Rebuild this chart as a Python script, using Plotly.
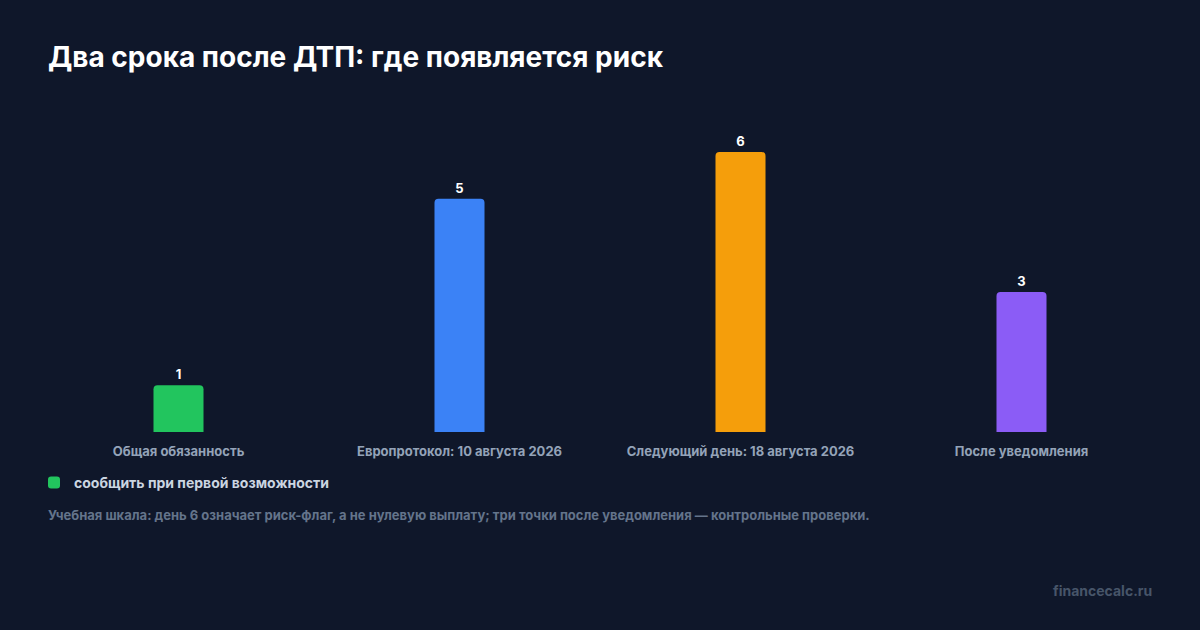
import plotly.graph_objects as go

categories = ["Общая обязанность", "Европротокол: 10 августа 2026",
              "Следующий день: 18 августа 2026", "После уведомления"]
values = [1, 5, 6, 3]
colors = ["#22c55e", "#3b82f6", "#f59e0b", "#8b5cf6"]
legend_name = "сообщить при первой возможности"

title = "Два срока после ДТП: где появляется риск"
note = ("Учебная шкала: день 6 означает риск-флаг, а не нулевую выплату; "
        "три точки после уведомления — контрольные проверки.")
brand = "financecalc.ru"

fig = go.Figure()
for i, (cat, val, col) in enumerate(zip(categories, values, colors)):
    fig.add_trace(go.Bar(
        x=[cat], y=[val],
        marker=dict(color=col, line=dict(width=0)),
        text=[str(val)], textposition="outside",
        textfont=dict(color="#ffffff", size=13, family="Inter", weight="bold"),
        cliponaxis=False,
        name=legend_name,
        showlegend=(i == 0),
        hoverinfo="x+y",
    ))

fig.update_layout(
    width=1200, height=630,
    paper_bgcolor="#0f172a", plot_bgcolor="#0f172a",
    font=dict(family="Inter, Roboto, sans-serif", color="#94a3b8"),
    margin=dict(l=38, r=38, t=110, b=198),
    bargap=0.822,
    barcornerradius=4,
    title=dict(text=title, x=48 / 1200, xanchor="left", y=1 - 57 / 630, yanchor="middle",
               font=dict(size=28, color="#ffffff", family="Inter", weight="bold")),
    xaxis=dict(showgrid=False, zeroline=False, showline=False, ticks="",
               tickfont=dict(size=13, color="#94a3b8", weight="bold"),
               ticklabelstandoff=10),
    yaxis=dict(visible=False, range=[0, 6.9], showgrid=False, zeroline=False),
    legend=dict(orientation="h", x=-4 / 1124, xanchor="left",
                y=-51 / 322, yanchor="middle",
                font=dict(size=14, color="#cbd5e1", weight="bold"),
                bgcolor="rgba(0,0,0,0)"),
    showlegend=True,
)

fig.add_annotation(text=note, xref="paper", yref="paper",
                   x=(46 - 38) / 1124, xanchor="left",
                   y=-83 / 322, yanchor="middle", showarrow=False,
                   font=dict(size=13, color="#64748b", weight="bold"))
fig.add_annotation(text=brand, xref="paper", yref="paper",
                   x=(1154 - 38) / 1124, xanchor="right",
                   y=-158 / 322, yanchor="middle", showarrow=False,
                   font=dict(size=14, color="#475569", weight="bold"))

# drop the default page margin so the chart fills the window
fig.write_html("out.html", config={"displayModeBar": False},
               post_script="document.body.style.margin='0';document.body.style.background='#0f172a';")
